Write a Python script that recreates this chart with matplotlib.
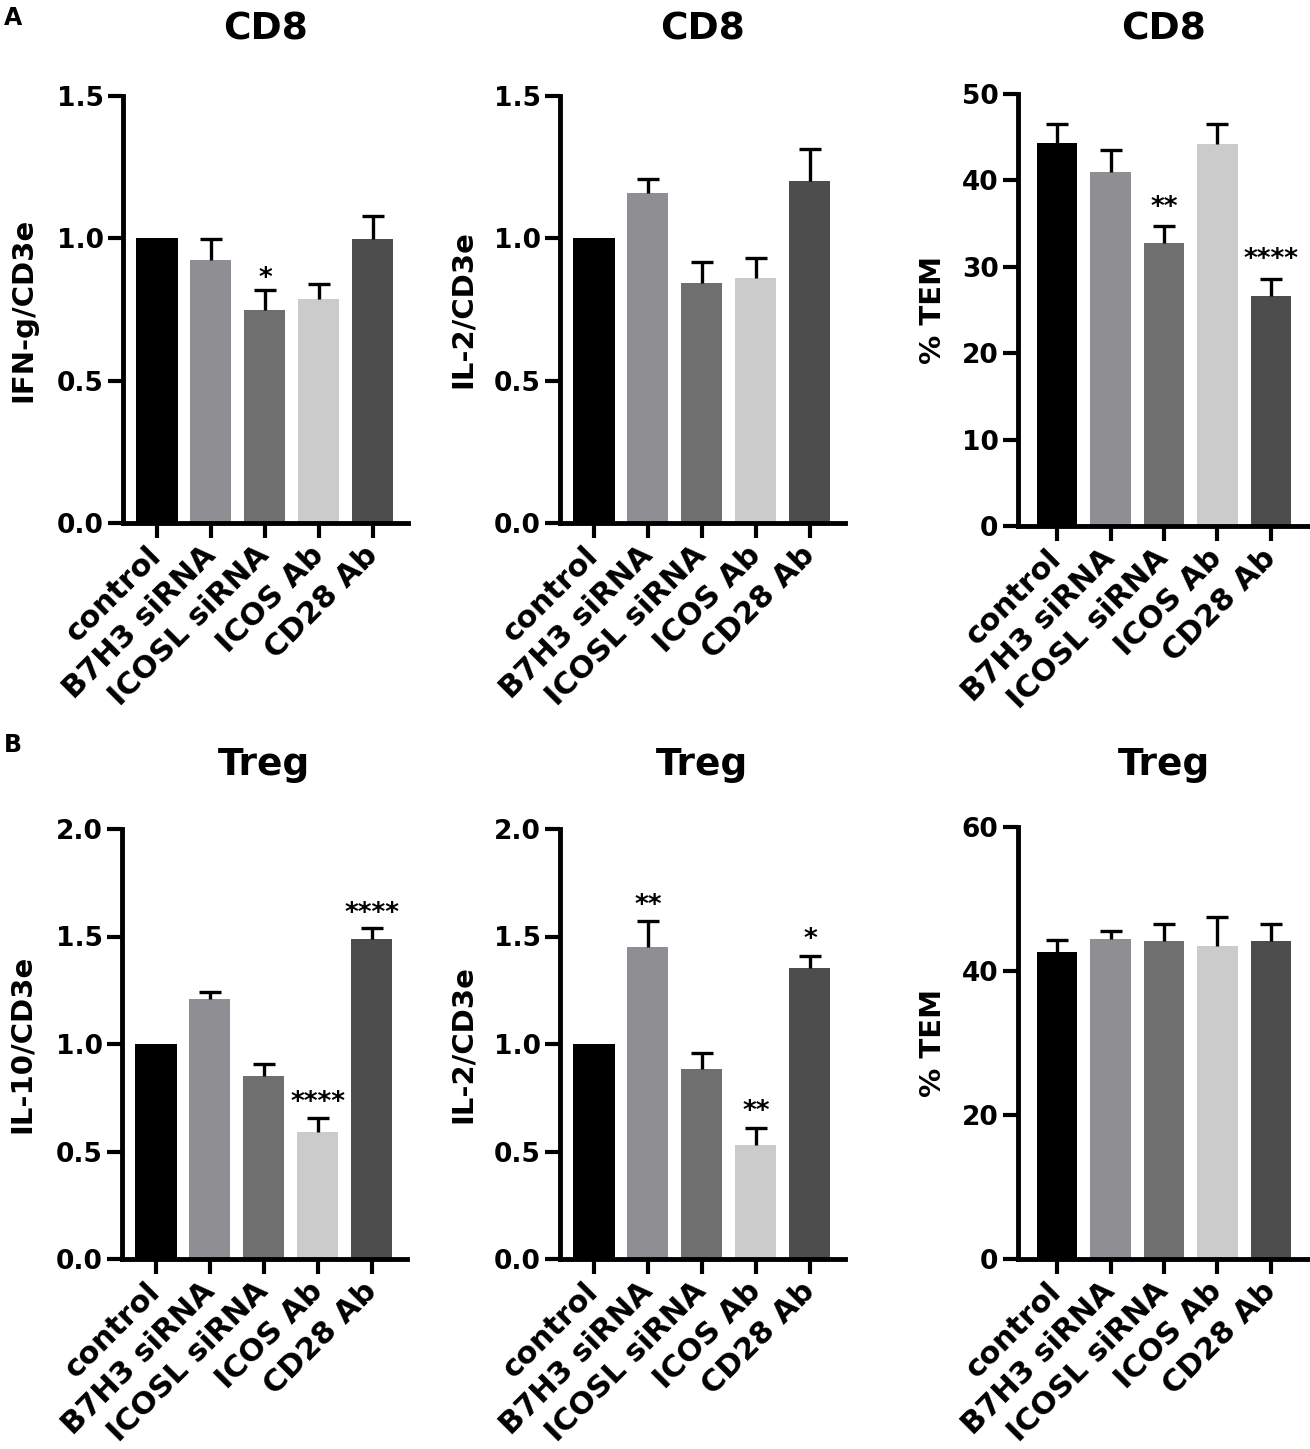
import numpy as np
import matplotlib
matplotlib.use('Agg')
import matplotlib.pyplot as plt

plt.rcParams['font.family'] = ['DejaVu Sans']
plt.rcParams['font.weight'] = 'bold'

groups = ['control', 'B7H3 siRNA', 'ICOSL siRNA', 'ICOS Ab', 'CD28 Ab']
bar_colors = ['#000000', '#8e8e93', '#6f6f6f', '#cbcbcb', '#4d4d4d']

# panel A (CD8)
cd8_ifng = [1.0, 0.924, 0.747, 0.787, 0.997]
cd8_ifng_err = [0.0, 0.073, 0.073, 0.053, 0.083]
cd8_ifng_stars = ['', '', '*', '', '']
cd8_ifng_star_y = [0, 0, 0.885, 0, 0]

cd8_il2 = [1.0, 1.158, 0.842, 0.86, 1.2]
cd8_il2_err = [0.0, 0.052, 0.074, 0.07, 0.115]

cd8_tem = [44.3, 41.0, 32.8, 44.2, 26.6]
cd8_tem_err = [2.2, 2.5, 1.9, 2.3, 2.0]
cd8_tem_stars = ['', '', '**', '', '****']
cd8_tem_star_y = [0, 0, 37.8, 0, 31.7]

# panel B (Treg)
treg_il10 = [1.0, 1.21, 0.85, 0.59, 1.49]
treg_il10_err = [0.0, 0.03, 0.056, 0.065, 0.05]
treg_il10_stars = ['', '', '', '****', '****']
treg_il10_star_y = [0, 0, 0, 0.766, 1.645]

treg_il2 = [1.0, 1.45, 0.886, 0.53, 1.355]
treg_il2_err = [0.0, 0.12, 0.072, 0.08, 0.055]
treg_il2_stars = ['', '**', '', '**', '*']
treg_il2_star_y = [0, 1.68, 0, 0.72, 1.52]

treg_tem = [42.7, 44.5, 44.1, 43.5, 44.1]
treg_tem_err = [1.6, 1.1, 2.4, 4.0, 2.4]

W, H = 1310, 1449
fig = plt.figure(figsize=(W / 100, H / 100), dpi=100)


def make_axes(left_px, top_px, bottom_px, width_px):
    return fig.add_axes([left_px / W, 1 - bottom_px / H,
                         width_px / W, (bottom_px - top_px) / H])


def draw_panel(ax, vals, errs, ymax, yticks, ylabel, title, title_y,
               stars=None, star_y=None, xlim=(-0.63, 4.65), label_dx=0.30):
    x = np.arange(len(groups))
    ax.bar(x, vals, width=0.76, color=bar_colors, zorder=2)
    # only the bars that have an SEM get an (upper) error bar
    idx = [i for i in range(len(vals)) if errs[i] > 0]
    v = np.array(vals)[idx]
    e = np.array(errs)[idx]
    eb = ax.errorbar(x[idx], v, yerr=[np.zeros(len(idx)), e], fmt='none',
                     ecolor='black', elinewidth=2.4, capsize=8, capthick=2.4,
                     zorder=3)
    eb[1][0].set_visible(False)
    if stars is not None:
        for i, s in enumerate(stars):
            if s:
                ax.annotate(s, xy=(i, star_y[i]), xytext=(0, -11),
                            textcoords='offset points', ha='center',
                            va='baseline', fontsize=19, fontweight='bold')
    ax.set_xlim(*xlim)
    ax.set_ylim(0, ymax)
    ax.set_yticks(yticks)
    ax.set_yticklabels([('%.1f' % t) if ymax < 10 else ('%d' % t) for t in yticks])
    ax.set_xticks(x)
    ax.set_xticklabels(groups, rotation=45, ha='right', va='center',
                       rotation_mode='anchor', fontsize=22, fontweight='bold')
    for lab in ax.get_yticklabels():
        lab.set_fontsize(19)
        lab.set_fontweight('bold')
    ax.tick_params(axis='both', length=11, width=3, direction='out', pad=3)
    ax.tick_params(axis='x', pad=9)
    for side in ['top', 'right']:
        ax.spines[side].set_visible(False)
    for side in ['left', 'bottom']:
        ax.spines[side].set_linewidth(3.5)
    ax.set_ylabel(ylabel, fontsize=21, fontweight='bold')
    ax.yaxis.set_label_coords(-label_dx, 0.5)
    bbox = ax.get_position()
    fig.text((bbox.x0 + bbox.x1) / 2, 1 - title_y / H, title, ha='center',
             va='center', fontsize=27, fontweight='bold')


ax1 = make_axes(123, 96, 523, 285)
draw_panel(ax1, cd8_ifng, cd8_ifng_err, 1.5, [0.0, 0.5, 1.0, 1.5],
           'IFN-g/CD3e', 'CD8', 30, cd8_ifng_stars, cd8_ifng_star_y,
           label_dx=86 / 285)

ax2 = make_axes(560, 96, 523, 285)
draw_panel(ax2, cd8_il2, cd8_il2_err, 1.5, [0.0, 0.5, 1.0, 1.5],
           'IL-2/CD3e', 'CD8', 30, label_dx=83 / 285)

ax3 = make_axes(1018, 94, 526, 292)
draw_panel(ax3, cd8_tem, cd8_tem_err, 50, [0, 10, 20, 30, 40, 50],
           '% TEM', 'CD8', 30, cd8_tem_stars, cd8_tem_star_y,
           xlim=(-0.73, 4.73), label_dx=71 / 292)

ax4 = make_axes(122, 829, 1259, 285)
draw_panel(ax4, treg_il10, treg_il10_err, 2.0, [0.0, 0.5, 1.0, 1.5, 2.0],
           'IL-10/CD3e', 'Treg', 765, treg_il10_stars, treg_il10_star_y,
           label_dx=86 / 285)

ax5 = make_axes(560, 829, 1259, 285)
draw_panel(ax5, treg_il2, treg_il2_err, 2.0, [0.0, 0.5, 1.0, 1.5, 2.0],
           'IL-2/CD3e', 'Treg', 765, treg_il2_stars, treg_il2_star_y,
           label_dx=83 / 285)

ax6 = make_axes(1018, 827, 1259, 292)
draw_panel(ax6, treg_tem, treg_tem_err, 60, [0, 20, 40, 60],
           '% TEM', 'Treg', 765, xlim=(-0.73, 4.73), label_dx=71 / 292)

fig.text(4 / W, 1 - 18 / H, 'A', fontsize=17, fontweight='bold', va='center')
fig.text(4 / W, 1 - 745 / H, 'B', fontsize=17, fontweight='bold', va='center')

fig.savefig('out.png', dpi=100)
